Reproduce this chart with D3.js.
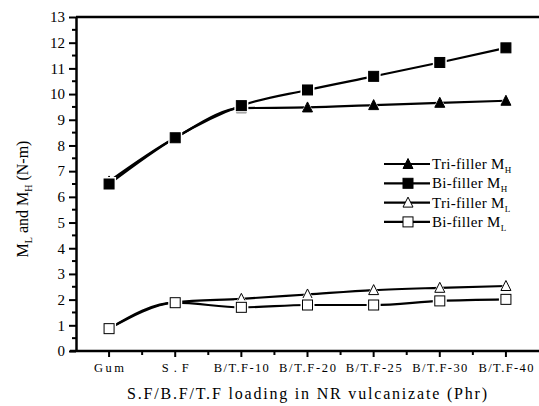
<!DOCTYPE html>
<html>
<head>
<meta charset="utf-8">
<script src="https://cdn.jsdelivr.net/npm/d3@7"></script>
<style>
  html, body { margin: 0; padding: 0; background: #fff; }
  svg { display: block; }
  svg text { font-family: "Liberation Serif", "Times New Roman", serif; fill: #000; }
</style>
</head>
<body>
<div id="chart"></div>
<script>
// categories and series
const categories = ['Gum', 'S.F', 'B/T.F-10', 'B/T.F-20', 'B/T.F-25', 'B/T.F-30', 'B/T.F-40'];
const triMH = [6.6, 8.3, 9.45, 9.48, 9.57, 9.66, 9.74];
const biMH  = [6.5, 8.3, 9.55, 10.16, 10.69, 11.23, 11.8];
const triML = [0.87, 1.9, 2.03, 2.2, 2.37, 2.46, 2.53];
const biML  = [0.87, 1.88, 1.7, 1.79, 1.79, 1.95, 2.01];
const yTicks = d3.range(0, 14);

const series = [
  { name: 'Tri-filler M', sub: 'H', values: triMH, shape: 'tri', fill: '#000' },
  { name: 'Bi-filler M',  sub: 'H', values: biMH,  shape: 'sq',  fill: '#000' },
  { name: 'Tri-filler M', sub: 'L', values: triML, shape: 'tri', fill: '#fff' },
  { name: 'Bi-filler M',  sub: 'L', values: biML,  shape: 'sq',  fill: '#fff' }
];

const W = 539, H = 406;
const pl = 76, pr = 539, pt = 17, pb = 351;
const serif = '"Liberation Serif", "Times New Roman", serif';

const svg = d3.select('#chart').append('svg')
  .attr('width', W).attr('height', H);

const x = d3.scaleBand().domain(categories).range([pl, pr]).padding(0);
const cx = d => x(d) + x.bandwidth() / 2;
const y = d3.scaleLinear().domain([0, 13]).range([pb, pt]);

function marker(g, shape, fill, s) {
  if (shape === 'sq') {
    g.append('rect').attr('x', -s / 2).attr('y', -s / 2)
      .attr('width', s).attr('height', s)
      .attr('fill', fill).attr('stroke', '#000').attr('stroke-width', 1);
  } else {
    const h = s * 0.9;
    g.append('path')
      .attr('d', `M0,${-h / 2 - 1}L${s / 2},${h / 2}L${-s / 2},${h / 2}Z`)
      .attr('fill', fill).attr('stroke', '#000').attr('stroke-width', 1);
  }
}

// data lines
const line = d3.line()
  .x((d, i) => cx(categories[i]))
  .y(d => y(d))
  .curve(d3.curveMonotoneX);

series.forEach(s => {
  svg.append('path')
    .datum(s.values)
    .attr('fill', 'none')
    .attr('stroke', '#000')
    .attr('stroke-width', 2.2)
    .attr('d', line);
});

// markers, with a white halo so the line breaks around them
series.forEach(s => {
  s.values.forEach((v, i) => {
    const g = svg.append('g')
      .attr('transform', `translate(${cx(categories[i])},${y(v)})`);
    const halo = g.append('g');
    marker(halo, s.shape, '#fff', 14);
    halo.selectAll('*').attr('stroke', 'none');
    marker(g, s.shape, s.fill, 10);
  });
});

// y axis
const yAxis = svg.append('g')
  .attr('transform', `translate(${pl},0)`)
  .call(d3.axisLeft(y).tickValues(yTicks).tickSize(7).tickSizeOuter(0).tickPadding(4));
yAxis.attr('font-family', serif);
yAxis.select('.domain').attr('stroke-width', 2.5);
yAxis.selectAll('.tick line').attr('stroke-width', 2);
yAxis.selectAll('.tick text')
  .attr('font-size', 15).attr('font-family', serif).attr('fill', '#000');

svg.append('g')
  .selectAll('line')
  .data(yTicks.slice(0, -1).map(t => t + 0.5))
  .join('line')
  .attr('x1', pl - 4).attr('x2', pl)
  .attr('y1', d => y(d)).attr('y2', d => y(d))
  .attr('stroke', '#000').attr('stroke-width', 2);

// x axis
svg.append('line')
  .attr('x1', pl - 6).attr('x2', pr)
  .attr('y1', pb).attr('y2', pb)
  .attr('stroke', '#000').attr('stroke-width', 2.5);

svg.append('g')
  .selectAll('line')
  .data(categories)
  .join('line')
  .attr('x1', d => cx(d)).attr('x2', d => cx(d))
  .attr('y1', pb).attr('y2', pb + 6)
  .attr('stroke', '#000').attr('stroke-width', 2);

svg.append('g')
  .selectAll('line')
  .data(categories.slice(1))
  .join('line')
  .attr('x1', d => x(d)).attr('x2', d => x(d))
  .attr('y1', pb).attr('y2', pb + 4)
  .attr('stroke', '#000').attr('stroke-width', 2);

const xLabelLen = [30, 27, 55, 57, 56, 55, 55];
svg.append('g')
  .selectAll('text')
  .data(categories)
  .join('text')
  .attr('x', d => cx(d))
  .attr('y', 372)
  .attr('text-anchor', 'middle')
  .attr('font-family', serif)
  .attr('font-size', 12.5)
  .attr('textLength', (d, i) => xLabelLen[i])
  .attr('lengthAdjust', 'spacing')
  .text(d => d);

// top frame
svg.append('line')
  .attr('x1', pl).attr('x2', pr)
  .attr('y1', pt).attr('y2', pt)
  .attr('stroke', '#000').attr('stroke-width', 2.5);

// axis titles
svg.append('text')
  .attr('x', 307).attr('y', 399)
  .attr('text-anchor', 'middle')
  .attr('font-family', serif)
  .attr('font-size', 16)
  .attr('textLength', 360)
  .attr('lengthAdjust', 'spacing')
  .text('S.F/B.F/T.F loading in NR vulcanizate (Phr)');

const yt = svg.append('text')
  .attr('transform', 'translate(28,199) rotate(-90)')
  .attr('text-anchor', 'middle')
  .attr('font-family', serif)
  .attr('font-size', 16);
yt.append('tspan').text('M');
yt.append('tspan').attr('font-size', 10).attr('dy', 4).text('L');
yt.append('tspan').attr('dy', -4).text(' and M');
yt.append('tspan').attr('font-size', 10).attr('dy', 4).text('H');
yt.append('tspan').attr('dy', -4).text('  (N-m)');

// legend
const legend = svg.append('g');
series.forEach((s, i) => {
  const ly = 164 + i * 19.3;
  const g = legend.append('g').attr('transform', `translate(0,${ly})`);
  g.append('line').attr('x1', 384).attr('x2', 430)
    .attr('stroke', '#000').attr('stroke-width', 2.2);
  marker(g.append('g').attr('transform', 'translate(408,0)'), s.shape, s.fill, 10);
  const t = g.append('text').attr('x', 432).attr('y', 5)
    .attr('font-family', serif)
    .attr('font-size', 15).attr('letter-spacing', 0.3);
  t.append('tspan').text(s.name);
  t.append('tspan').attr('font-size', 9).attr('dy', 4).text(s.sub);
});
</script>
</body>
</html>
